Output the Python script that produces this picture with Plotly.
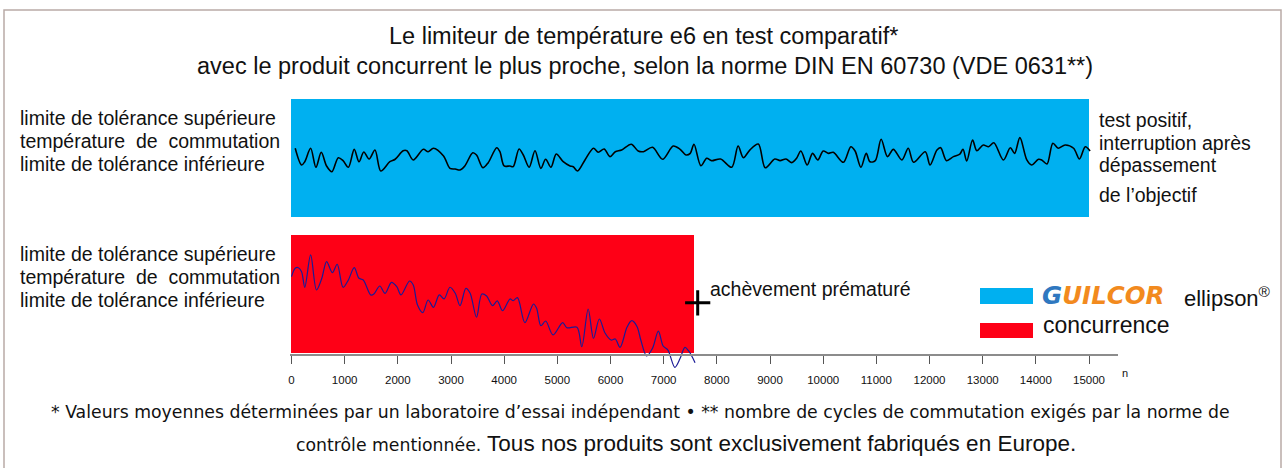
import plotly.graph_objects as go

# ---------------- data ----------------
# number of switching cycles reached (e6 = test stopped after target, competitor = premature end)
products = ["GUILCOR ellipson", "concurrence"]
cycles_reached = [15000, 7570]

# e6 (blue band): temperature deviation from switching temperature (tolerance band = +/-5 units)
blue_cycles = [
    70, 190, 250, 360, 460, 560, 660, 760, 880, 970,
    1070, 1180, 1270, 1360, 1460, 1570, 1680, 1850, 1950, 2100,
    2170, 2290, 2480, 2570, 2670, 2860, 2980, 3080, 3170, 3260,
    3410, 3480, 3600, 3700, 3860, 3920, 4000, 4110, 4170, 4280,
    4360, 4470, 4580, 4690, 4780, 4880, 4980, 5110, 5240, 5300,
    5380, 5520, 5680, 5770, 5880, 5990, 6090, 6210, 6390, 6520,
    6620, 6790, 6980, 7180, 7310, 7420, 7500, 7570, 7700, 7810,
    7900, 8070, 8280, 8400, 8500, 8620, 8780, 8910, 9090, 9190,
    9300, 9410, 9500, 9580, 9700, 9800, 9900, 10000, 10100, 10190,
    10380, 10520, 10600, 10710, 10810, 10880, 10980, 11090, 11210, 11320,
    11480, 11600, 11700, 11920, 12010, 12140, 12210, 12320, 12450, 12570,
    12630, 12700, 12810, 12890, 13010, 13110, 13210, 13390, 13520, 13600,
    13700, 13830, 13920, 14050, 14110, 14210, 14320, 14420, 14550, 14710,
    14820, 14930, 15020,
]
blue_dev = [
    0.85, -0.57, -0.29, 0.85, -0.76, 0.51, -0.65, -1.14, 0.05, -0.20,
    -0.76, 0.76, -0.29, 0.53, -0.06, 0.70, -1.08, -0.29, -0.08, 0.64,
    0.64, -0.14, 0.76, 0.56, 0.85, 0.19, -0.85, -0.91, -0.99, -0.65,
    0.47, 0.28, -0.80, -0.37, 0.90, 0.56, -0.65, -0.65, -0.71, 0.79,
    0.28, -0.76, 0.64, -0.85, -0.08, -0.76, 0.36, -0.29, -0.65, -0.71,
    -1.08, -0.14, 0.85, 0.51, 0.79, 0.14, 0.56, 0.70, 1.19, 0.62,
    0.56, 0.93, -0.08, 1.04, 0.76, 0.28, 0.42, 1.19, -0.63, 0.00,
    -0.20, -0.06, -0.76, 1.04, 0.05, 0.70, 1.21, -0.80, -0.06, -0.20,
    -0.06, -0.37, 0.00, 0.62, -0.57, 0.42, -0.14, 0.62, 0.42, 0.51,
    -0.34, 0.98, 0.62, -0.76, 0.42, -0.29, -0.20, 1.61, 0.14, 0.76,
    -0.14, 0.85, -0.34, 0.56, -0.57, 0.70, 0.90, -0.20, 0.14, 0.36,
    0.76, -0.23, 1.55, 0.64, 1.13, 0.98, 1.32, -0.14, 0.90, 0.42,
    1.75, -0.14, -0.57, -0.08, -0.14, -0.48, 1.27, 0.85, 1.13, 0.85,
    -0.06, 0.98, 0.62,
]

# competitor (red band): temperature deviation from switching temperature
red_cycles = [
    0, 70, 130, 190, 250, 360, 470, 570, 660, 770,
    860, 970, 1070, 1180, 1270, 1350, 1490, 1550, 1660, 1760,
    1880, 1980, 2060, 2220, 2290, 2370, 2470, 2570, 2670, 2780,
    2870, 2980, 3080, 3170, 3280, 3360, 3480, 3580, 3670, 3780,
    3870, 3970, 4110, 4170, 4250, 4390, 4550, 4610, 4690, 4780,
    4920, 5100, 5180, 5370, 5460, 5580, 5680, 5790, 5900, 6010,
    6090, 6180, 6310, 6400, 6500, 6570, 6680, 6790, 6900, 6990,
    7080, 7210, 7310, 7400, 7480, 7590,
]
red_dev = [
    1.47, 2.18, 2.23, 1.89, 0.57, 3.31, 0.34, 1.33, 2.74, 1.81,
    2.52, 0.57, 1.19, 2.23, 1.33, 1.19, -0.08, 0.00, 0.68, 0.06,
    0.99, 0.62, -0.08, 1.10, 0.76, -0.93, -1.58, -0.51, -1.13, -0.08,
    -0.42, 0.57, 0.06, -0.99, 0.48, 0.06, -1.97, 0.00, -0.17, -0.99,
    -0.59, -1.42, -0.42, -0.57, -0.31, -2.43, -0.85, -1.21, -2.69, -2.29,
    -3.47, -2.43, -2.86, -2.82, -4.47, -1.27, -3.75, -2.12, -3.33, -3.90,
    -3.81, -4.52, -2.82, -2.26, -2.77, -3.90, -5.25, -4.60, -3.14, -4.41,
    -4.75, -6.21, -5.45, -4.52, -4.89, -5.82,
]

tick_values = list(range(0, 15001, 1000))
tick_labels = [str(v) for v in tick_values]

band_labels = [
    "limite de tolérance supérieure",
    "température\u00a0 de\u00a0 commutation",
    "limite de tolérance inférieure",
]
right_labels = ["test positif,", "interruption après", "dépassement", "de l’objectif"]

# ---------------- layout constants ----------------
W, H = 1287, 468
L, R, T, B = 290, 1118, 95, 375          # plot area in pixels
PW, PH = R - L, B - T
BLUE_C, RED_C, BAND_H = 11.5, 0.0, 10.0  # band centres / height on y scale
BLUE = "#00b0f0"
RED = "#fe0016"
FONT = "Liberation Sans, Arial, sans-serif"


def px(x):
    return (x - L) / PW


def py(y):
    return (B - y) / PH


fig = go.Figure()

fig.add_trace(go.Bar(
    orientation="h",
    y=[BLUE_C, RED_C],
    x=cycles_reached,
    base=0,
    width=[BAND_H, BAND_H],
    marker=dict(color=[BLUE, RED], line=dict(width=0)),
    hoverinfo="skip",
    name="bands",
))

fig.add_trace(go.Scatter(
    x=blue_cycles,
    y=[BLUE_C + v for v in blue_dev],
    mode="lines",
    line=dict(color="#000000", width=1.6, shape="spline", smoothing=0.9),
    name=products[0],
))

fig.add_trace(go.Scatter(
    x=red_cycles,
    y=[RED_C + v for v in red_dev],
    mode="lines",
    line=dict(color="#1a1a96", width=1.2, shape="spline", smoothing=0.9),
    name=products[1],
))

# premature-end cross
fig.add_trace(go.Scatter(
    x=[cycles_reached[1] + 70],
    y=[RED_C - 0.75],
    mode="markers",
    marker=dict(symbol="cross-thin", size=18, line=dict(width=3, color="#000000")),
    hoverinfo="skip",
))

ann = []


def text(x, y, s, size, anchor="left", color="#111111", family=FONT):
    ann.append(dict(
        x=px(x), y=py(y), xref="paper", yref="paper", text=s, showarrow=False,
        xanchor=anchor, yanchor="middle", font=dict(size=size, color=color, family=family),
    ))


# title
text(643, 36, "Le limiteur de température e6 en test comparatif*", 23.5, "center")
text(645, 66, "avec le produit concurrent le plus proche, selon la norme DIN EN 60730 (VDE 0631**)", 23.5, "center")

# left band labels
for i, s in enumerate(band_labels):
    text(18, 118 + 23 * i, s, 19.5)
    text(18, 254 + 23 * i, s, 19.5)

# right labels
for s, yy in zip(right_labels, [120, 142.5, 165, 195]):
    text(1097, yy, s, 19.5)

text(708, 289, "achèvement prématuré", 19.5)

# legend
text(1040, 295, "<b><i><span style='color:#2f78c0'>G</span>UILCOR</i></b>", 24.5,
     color="#f28a1e", family="DejaVu Sans, sans-serif")
text(1182, 297, "ellipson<sup>®</sup>", 22)
text(1041, 325, "concurrence", 23)

# axis unit
text(1120, 373, "n", 11)

# footnotes
text(640, 412, "* Valeurs moyennes déterminées par un laboratoire d’essai indépendant • ** nombre de cycles de commutation exigés par la norme de",
     17.3, "center", family="DejaVu Sans, sans-serif")
text(686, 443, "<span style='font-family:DejaVu Sans;font-size:17.3px'>contrôle mentionnée.</span> Tous nos produits sont exclusivement fabriqués en Europe.",
     22.5, "center")

shapes = [
    dict(type="rect", xref="paper", yref="paper", x0=px(4), x1=px(1281), y0=py(480), y1=py(10),
         line=dict(color="#b9aaa6", width=1.5), fillcolor="rgba(0,0,0,0)", layer="below"),
    dict(type="rect", xref="paper", yref="paper", x0=px(980), x1=px(1033), y0=py(304), y1=py(288),
         line=dict(width=0), fillcolor=BLUE),
    dict(type="rect", xref="paper", yref="paper", x0=px(980), x1=px(1033), y0=py(338), y1=py(323),
         line=dict(width=0), fillcolor=RED),
]

fig.update_layout(
    width=W, height=H,
    margin=dict(l=L, r=W - R, t=T, b=H - B, pad=0),
    paper_bgcolor="white", plot_bgcolor="white",
    showlegend=False,
    annotations=ann,
    shapes=shapes,
    bargap=0,
    xaxis=dict(
        range=[-28, 15545], tickvals=tick_values, ticktext=tick_labels,
        showgrid=False, zeroline=False, showline=True, linecolor="#8c8c8c", linewidth=1.5,
        ticks="outside", ticklen=8, tickcolor="#555555", tickwidth=1,
        anchor="free", position=(B - 355) / PH,
        ticklabelstandoff=6,
        tickfont=dict(size=11.5, color="#111111", family=FONT),
    ),
    yaxis=dict(range=[-6.864, 16.864], visible=False, showgrid=False, zeroline=False),
)

fig.write_html(
    "out.html",
    config={"displayModeBar": False},
    post_script="document.body.style.margin='0';document.body.style.overflow='hidden';",
)
